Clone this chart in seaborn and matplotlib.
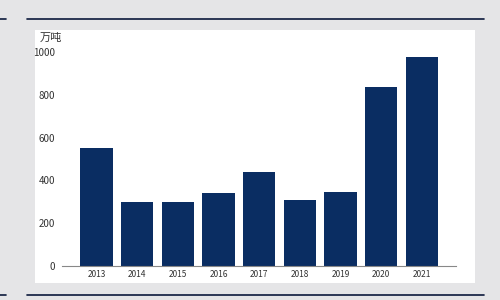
import matplotlib
matplotlib.use("Agg")
import matplotlib.pyplot as plt
import seaborn as sns
import pandas as pd
from matplotlib.patches import Rectangle
from matplotlib.lines import Line2D

years = ["2013", "2014", "2015", "2016", "2017", "2018", "2019", "2020", "2021"]
values = [550, 298, 300, 340, 438, 308, 346, 836, 975]
y_ticks = [0, 200, 400, 600, 800, 1000]
unit_label = "万吨"

sns.set_theme(style="white")
plt.rcParams['font.family'] = ['Noto Sans CJK SC', 'DejaVu Sans']

W, H = 500, 300
fig = plt.figure(figsize=(5, 3), dpi=100, facecolor="#e5e5e7")

# white panel
fig.patches.append(Rectangle((35 / W, 1 - 283 / H), 440 / W, 253 / H,
                             transform=fig.transFigure, facecolor="white",
                             edgecolor="none", zorder=-10))
navy = "#0c1a3c"
for yy in (19, 295):
    fig.lines.append(Line2D([27 / W, 484 / W], [1 - yy / H, 1 - yy / H],
                            transform=fig.transFigure, color=navy, lw=1.2))
    fig.lines.append(Line2D([0, 6 / W], [1 - yy / H, 1 - yy / H],
                            transform=fig.transFigure, color=navy, lw=1.2))

ax = fig.add_axes([62 / W, 1 - 266 / H, (456 - 62) / W, (266 - 52) / H])
ax.set_facecolor("none")
df = pd.DataFrame({"year": years, "value": values})
sns.barplot(data=df, x="year", y="value", color="#0a2d62", width=0.8,
            saturation=1, edgecolor="none", linewidth=0, ax=ax)
ax.set_xlim(-0.85, 8.84)
ax.set_ylim(0, 1000)
ax.set_yticks(y_ticks)
ax.set_yticklabels([str(t) for t in y_ticks], fontsize=7, color="#333333")
ax.tick_params(axis="x", labelsize=6, colors="#333333", length=0, pad=3)
ax.tick_params(axis="y", length=0, pad=5)
ax.set_xlabel("")
ax.set_ylabel("")
for s in ("top", "right", "left"):
    ax.spines[s].set_visible(False)
ax.spines["bottom"].set_color("#888888")
ax.spines["bottom"].set_linewidth(0.8)
fig.text(40 / W, 1 - 38 / H, unit_label, fontsize=8, color="#333333",
         va="center", ha="left")

fig.savefig("out.png", dpi=100, facecolor=fig.get_facecolor())
